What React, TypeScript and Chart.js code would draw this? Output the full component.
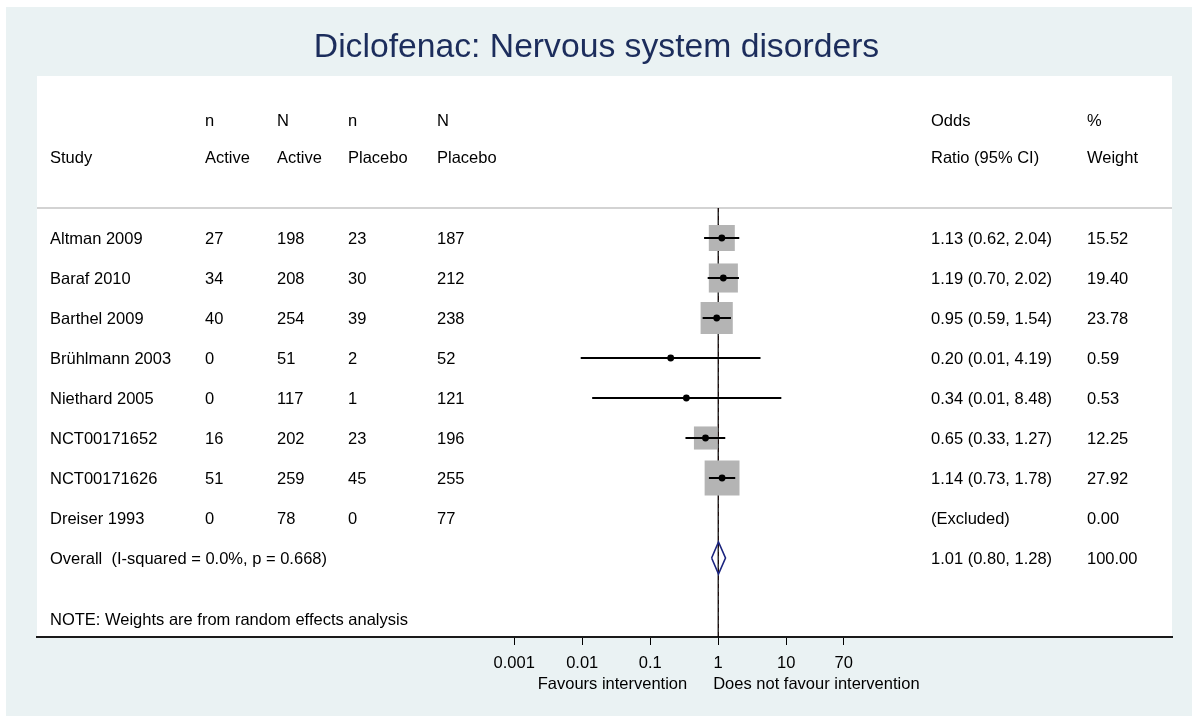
import React, { useEffect, useRef } from "react";
import { Chart, registerables } from "chart.js";

Chart.register(...registerables);

const TITLE = "Diclofenac: Nervous system disorders";
const studies = [
  "Altman 2009",
  "Baraf 2010",
  "Barthel 2009",
  "Brühlmann 2003",
  "Niethard 2005",
  "NCT00171652",
  "NCT00171626",
  "Dreiser 1993",
];
const nActive = [27, 34, 40, 0, 0, 16, 51, 0];
const NActive = [198, 208, 254, 51, 117, 202, 259, 78];
const nPlacebo = [23, 30, 39, 2, 1, 23, 45, 0];
const NPlacebo = [187, 212, 238, 52, 121, 196, 255, 77];
const oddsRatio: (number | null)[] = [1.13, 1.19, 0.95, 0.2, 0.34, 0.65, 1.14, null];
const ciLow: (number | null)[] = [0.62, 0.7, 0.59, 0.0095, 0.014, 0.33, 0.73, null];
const ciHigh: (number | null)[] = [2.04, 2.02, 1.54, 4.19, 8.48, 1.27, 1.78, null];
const weights = [15.52, 19.4, 23.78, 0.59, 0.53, 12.25, 27.92, 0.0];
const overallLabel = "Overall  (I-squared = 0.0%, p = 0.668)";
const overallOR = 1.01;
const overallLow = 0.8;
const overallHigh = 1.28;
const overallWeight = 100.0;
const noteText = "NOTE: Weights are from random effects analysis";
const tickValues = [0.001, 0.01, 0.1, 1, 10, 70];
const tickLabels = ["0.001", "0.01", "0.1", "1", "10", "70"];
const favoursLeft = "Favours intervention";
const favoursRight = "Does not favour intervention";
const headerTop = ["", "n", "N", "n", "N", "Odds", "%"];
const headerBottom = ["Study", "Active", "Active", "Placebo", "Placebo", "Ratio (95% CI)", "Weight"];

// layout constants
const W = 1192;
const H = 716;
const FONT = '16.5px "Liberation Sans", Arial, sans-serif';
const Y_MIN = -4.05;
const Y_MAX = 9.975;
const SEP_Y = -0.75;
const HEAD1_Y = -2.95;
const HEAD2_Y = -2.03;
const NOTE_Y = 9.525;
const OVERALL_ROW = studies.length;
const DIAMOND_HALF = 0.4;
const BOX_SCALE = 6.6;
const COL_X = [13, 168, 240, 311, 400, 894, 1050];

const fmt2 = (v: number) => v.toFixed(2);

export default function App() {
  const ref = useRef<HTMLCanvasElement | null>(null);

  useEffect(() => {
    document.body.style.margin = "0";
    document.body.style.overflow = "hidden";
    const canvas = ref.current;
    if (!canvas) return;

    const rows = studies.map((_, i) => i);
    const valid = rows.filter((i) => oddsRatio[i] !== null);

    const pointsDs = {
      label: "points",
      data: valid.map((i) => ({ x: oddsRatio[i] as number, y: i })),
      pointStyle: "circle",
      pointRadius: 3.4,
      backgroundColor: "#000",
      borderWidth: 0,
      showLine: false,
    };
    const ciDs = valid.map((i) => ({
      label: "ci" + i,
      data: [
        { x: ciLow[i] as number, y: i },
        { x: ciHigh[i] as number, y: i },
      ],
      showLine: true,
      borderColor: "#000",
      borderWidth: 2,
      pointRadius: 0,
    }));
    const boxDs = {
      label: "boxes",
      data: valid.map((i) => ({ x: oddsRatio[i] as number, y: i })),
      pointStyle: "rect",
      pointRadius: valid.map((i) => (BOX_SCALE * Math.sqrt(weights[i])) / Math.SQRT2),
      backgroundColor: "#b4b4b4",
      borderWidth: 0,
      showLine: false,
    };
    const diamondDs = {
      label: "overall",
      data: [
        { x: overallLow, y: OVERALL_ROW },
        { x: overallOR, y: OVERALL_ROW - DIAMOND_HALF },
        { x: overallHigh, y: OVERALL_ROW },
        { x: overallOR, y: OVERALL_ROW + DIAMOND_HALF },
        { x: overallLow, y: OVERALL_ROW },
      ],
      showLine: true,
      borderColor: "#1a237e",
      borderWidth: 1.6,
      pointRadius: 0,
    };
    const overallLineDs = {
      label: "overallLine",
      data: [
        { x: overallOR, y: SEP_Y },
        { x: overallOR, y: Y_MAX },
      ],
      showLine: true,
      borderColor: "#8a3a3a",
      borderWidth: 1,
      borderDash: [4, 4],
      pointRadius: 0,
    };
    const nullLineDs = {
      label: "nullLine",
      data: [
        { x: 1, y: SEP_Y },
        { x: 1, y: Y_MAX },
      ],
      showLine: true,
      borderColor: "#000",
      borderWidth: 1.2,
      pointRadius: 0,
    };

    const bgPlugin = {
      id: "bg",
      beforeDraw(chart: any) {
        const { ctx, chartArea } = chart;
        ctx.save();
        ctx.fillStyle = "#ffffff";
        ctx.fillRect(0, 0, W, H);
        ctx.fillStyle = "#eaf2f3";
        ctx.fillRect(6, 7, W - 6, H - 7);
        ctx.fillStyle = "#ffffff";
        ctx.fillRect(chartArea.left, chartArea.top, chartArea.right - chartArea.left, chartArea.bottom - chartArea.top);
        // title
        ctx.fillStyle = "#1c2d5c";
        ctx.font = '33.7px "Liberation Sans", Arial, sans-serif';
        ctx.textAlign = "center";
        ctx.textBaseline = "alphabetic";
        ctx.fillText(TITLE, W / 2 + 0.5, 57);
        ctx.restore();
      },
      beforeDatasetsDraw(chart: any) {
        const { ctx, chartArea, scales } = chart;
        const y = scales.y.getPixelForValue(SEP_Y);
        ctx.save();
        ctx.strokeStyle = "#c4c4c4";
        ctx.lineWidth = 1.5;
        ctx.beginPath();
        ctx.moveTo(chartArea.left, y);
        ctx.lineTo(chartArea.right, y);
        ctx.stroke();
        ctx.restore();
      },
      afterDraw(chart: any) {
        const { ctx, chartArea, scales } = chart;
        const L = chartArea.left;
        const yp = (v: number) => scales.y.getPixelForValue(v) + 6;
        ctx.save();
        ctx.font = FONT;
        ctx.fillStyle = "#000";
        ctx.textAlign = "left";
        ctx.textBaseline = "alphabetic";
        headerTop.forEach((t, c) => t && ctx.fillText(t, L + COL_X[c], yp(HEAD1_Y)));
        headerBottom.forEach((t, c) => t && ctx.fillText(t, L + COL_X[c], yp(HEAD2_Y)));
        studies.forEach((s, i) => {
          const y = yp(i);
          ctx.fillText(s, L + COL_X[0], y);
          ctx.fillText(String(nActive[i]), L + COL_X[1], y);
          ctx.fillText(String(NActive[i]), L + COL_X[2], y);
          ctx.fillText(String(nPlacebo[i]), L + COL_X[3], y);
          ctx.fillText(String(NPlacebo[i]), L + COL_X[4], y);
          const orTxt =
            oddsRatio[i] === null
              ? "(Excluded)"
              : `${fmt2(oddsRatio[i] as number)} (${fmt2(ciLow[i] as number)}, ${fmt2(ciHigh[i] as number)})`;
          ctx.fillText(orTxt, L + COL_X[5], y);
          ctx.fillText(fmt2(weights[i]), L + COL_X[6], y);
        });
        const yo = yp(OVERALL_ROW);
        ctx.fillText(overallLabel, L + COL_X[0], yo);
        ctx.fillText(`${fmt2(overallOR)} (${fmt2(overallLow)}, ${fmt2(overallHigh)})`, L + COL_X[5], yo);
        ctx.fillText(fmt2(overallWeight), L + COL_X[6], yo);
        ctx.fillText(noteText, L + COL_X[0], yp(NOTE_Y));
        // favours labels
        const x1 = scales.x.getPixelForValue(1);
        const fy = chartArea.bottom + 52;
        ctx.textAlign = "right";
        ctx.fillText(favoursLeft, x1 - 31, fy);
        ctx.textAlign = "left";
        ctx.fillText(favoursRight, x1 - 5, fy);
        ctx.restore();
      },
    };

    const chart = new Chart(canvas, {
      type: "scatter",
      data: {
        datasets: [pointsDs, ...ciDs, boxDs, diamondDs, nullLineDs, overallLineDs] as any,
      },
      options: {
        animation: false,
        responsive: false,
        maintainAspectRatio: false,
        layout: { autoPadding: false, padding: { left: 37, right: 20, top: 76, bottom: 0 } },
        plugins: {
          legend: { display: false },
          tooltip: { enabled: false },
          title: { display: false },
        },
        scales: {
          x: {
            type: "logarithmic",
            min: Math.pow(10, -10.02),
            max: Math.pow(10, 6.675),
            afterBuildTicks: (s: any) => {
              s.ticks = tickValues.map((v) => ({ value: v }));
            },
            afterFit: (s: any) => {
              s.height = 79;
              s.paddingLeft = 0;
              s.paddingRight = 0;
            },
            ticks: {
              autoSkip: false,
              maxRotation: 0,
              padding: 9,
              color: "#000",
              font: { family: '"Liberation Sans", Arial, sans-serif', size: 16.5 },
              callback: (_v: any, i: number) => tickLabels[i],
            },
            grid: {
              drawOnChartArea: false,
              drawTicks: true,
              tickLength: 8,
              color: "#000",
              lineWidth: 1,
            },
            border: { display: true, color: "#1a1a1a", width: 2 },
          },
          y: {
            type: "linear",
            display: false,
            reverse: true,
            min: Y_MIN,
            max: Y_MAX,
          },
        },
      } as any,
      plugins: [bgPlugin],
    });

    return () => chart.destroy();
  }, []);

  return (
    <div style={{ width: W, height: H }}>
      <canvas ref={ref} width={W} height={H} style={{ display: "block" }} />
    </div>
  );
}
